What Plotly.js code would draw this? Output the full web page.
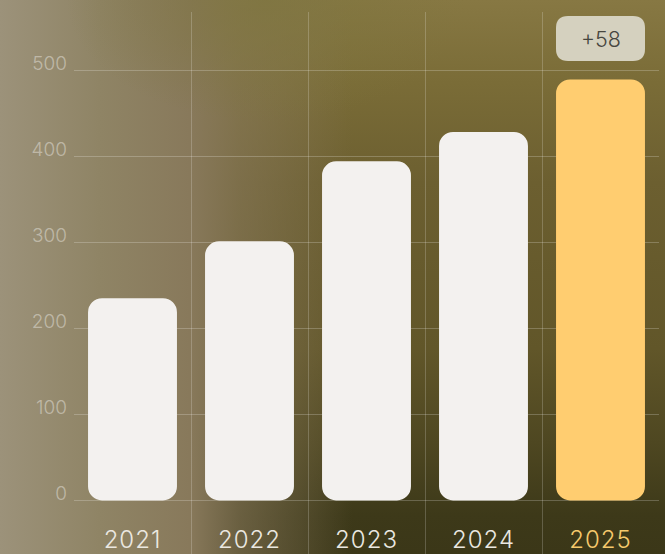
<!DOCTYPE html>
<html>
<head>
<meta charset="utf-8">
<script src="https://cdn.plot.ly/plotly-3.0.1.min.js"></script>
<style>
  html, body { margin: 0; padding: 0; }
  body {
    width: 665px; height: 554px; overflow: hidden;
    background:
      radial-gradient(ellipse 30% 22% at 40% 0%, rgba(126,117,62,0.75), rgba(126,117,62,0) 100%),
      linear-gradient(to right, rgba(156,146,122,1) 0%, rgba(143,132,101,1) 15%, rgba(136,121,91,1) 28.5%, rgba(136,121,91,0.6) 36%, rgba(136,121,91,0.3) 45%, rgba(136,121,91,0) 53%),
      linear-gradient(to bottom, #877843 0%, #7a6c37 15%, #6c5f30 33%, #615629 63%, #4e4721 80%, #3d3919 93%, #3b3718 100%);
  }
  #chart { width: 665px; height: 556px; }
  .xtick text { letter-spacing: 1px; }
</style>
</head>
<body>
<div id="chart"></div>
<script>
// ---- data ----
const years = ['2021', '2022', '2023', '2024', '2025'];
const values = [235, 301, 394, 428, 489];
const yTicks = [0, 100, 200, 300, 400, 500];
const badgeText = '+58';

// ---- styling ----
const barColors = ['#f3f1ef', '#f3f1ef', '#f3f1ef', '#f3f1ef', '#ffcd70'];
const labelColors = ['#ebe8e1', '#ebe8e1', '#ebe8e1', '#ebe8e1', '#f6c96c'];

const bars = {
  type: 'bar',
  x: years,
  y: values,
  base: values.map(() => 0),
  marker: { color: barColors, cornerradius: 14, line: { width: 0 } },
  width: 0.76,
  hoverinfo: 'skip'
};

function roundRect(x0, y0, x1, y1, r) {
  return `M ${x0 + r},${y0} L ${x1 - r},${y0} Q ${x1},${y0} ${x1},${y0 - r} ` +
         `L ${x1},${y1 + r} Q ${x1},${y1} ${x1 - r},${y1} L ${x0 + r},${y1} ` +
         `Q ${x0},${y1} ${x0},${y1 + r} L ${x0},${y0 - r} Q ${x0},${y0} ${x0 + r},${y0} Z`;
}

const lastIdx = years.length - 1;

const layout = {
  width: 665, height: 556,
  margin: { l: 74, r: 6, t: 12, b: 0 },
  paper_bgcolor: 'rgba(0,0,0,0)',
  plot_bgcolor: 'rgba(0,0,0,0)',
  showlegend: false,
  font: { family: 'Inter, sans-serif', weight: 300 },
  xaxis: {
    type: 'category',
    range: [-0.5, 4.5],
    tickson: 'boundaries',
    showgrid: true,
    gridcolor: 'rgba(255,255,255,0.2)',
    gridwidth: 1,
    ticks: '',
    showline: false,
    zeroline: false,
    ticklabelposition: 'inside',
    tickmode: 'array',
    tickvals: years,
    ticktext: years.map((y, i) => `<span style="color:${labelColors[i]}">${y}</span>`),
    tickfont: { size: 24, color: '#ebe8e1', family: 'Inter, sans-serif', weight: 300 },
    fixedrange: true
  },
  yaxis: {
    range: [-64.5, 567.4],
    tickmode: 'array',
    tickvals: yTicks,
    ticktext: yTicks.map(String),
    showgrid: true,
    gridcolor: 'rgba(255,255,255,0.22)',
    gridwidth: 1,
    zeroline: false,
    showline: false,
    ticks: '',
    ticklabelstandoff: 6,
    ticklabelshift: -7,
    tickfont: { size: 19, color: 'rgba(255,255,255,0.4)', family: 'Inter, sans-serif', weight: 300 },
    fixedrange: true
  },
  shapes: [{
    type: 'path',
    xref: 'x', yref: 'paper',
    xsizemode: 'pixel', ysizemode: 'pixel',
    xanchor: lastIdx, yanchor: 1,
    path: roundRect(-44.5, -4, 44.5, -49, 12),
    fillcolor: '#d5d1bf',
    line: { width: 0 },
    layer: 'below'
  }],
  annotations: [{
    x: lastIdx, xref: 'x',
    y: 1, yref: 'paper',
    yanchor: 'middle', yshift: -26.5,
    text: badgeText,
    showarrow: false,
    font: { size: 21.5, color: '#47463f', family: 'Inter, sans-serif', weight: 300 }
  }]
};

Plotly.newPlot('chart', [bars], layout, { displayModeBar: false, staticPlot: true });
</script>
</body>
</html>
